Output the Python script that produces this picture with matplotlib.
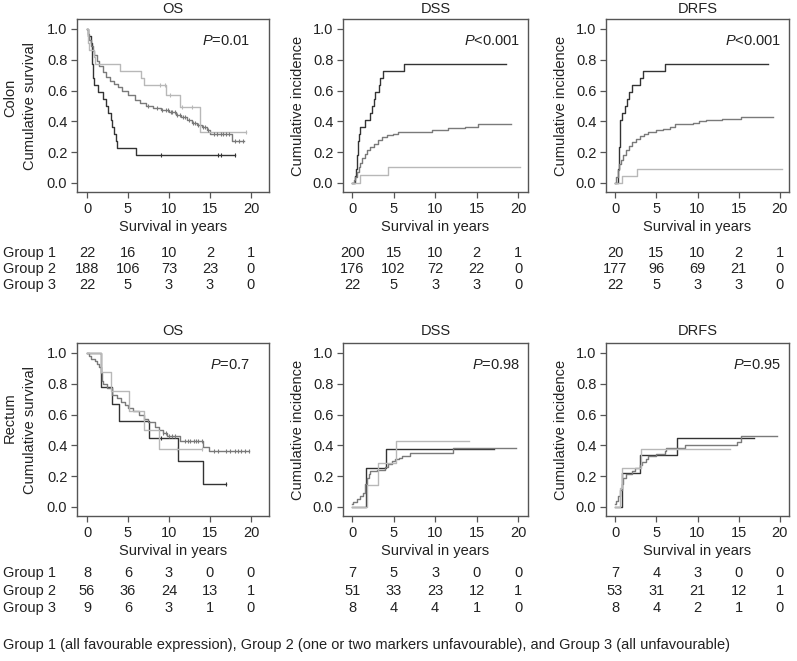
import numpy as np
import matplotlib as mpl
mpl.use('Agg')
import matplotlib.pyplot as plt
import matplotlib.transforms as mtransforms
from matplotlib import font_manager

# ---- data ----
years = [0, 5, 10, 15, 20]

# colon OS (survival)
c_os_t1 = [0, 0.1, 0.15, 0.2, 0.8, 1.0, 4.0, 6.6, 7.0, 9.6, 11.3, 13.8, 19.4]
c_os_s1 = [1.0, 0.955, 0.909, 0.864, 0.818, 0.773, 0.727, 0.682, 0.636, 0.57, 0.49, 0.33, 0.33]
c_os_c1 = [8.9, 9.5, 10.1, 11.6, 12.8, 19.4]
c_os_t2 = [0, 0.1, 0.3, 0.5, 0.7, 0.9, 1.2, 1.5, 1.9, 2.3, 2.8, 3.3, 3.8, 4.3, 5.0, 5.8, 6.5,
           7.2, 8.0, 9.0, 10.0, 10.8, 11.5, 12.2, 12.8, 13.4, 14.0, 14.6, 15.0, 17.7, 19.2]
c_os_s2 = [1.0, 0.97, 0.93, 0.89, 0.86, 0.83, 0.79, 0.76, 0.72, 0.69, 0.66, 0.64, 0.62, 0.60,
           0.57, 0.54, 0.52, 0.50, 0.485, 0.475, 0.46, 0.44, 0.43, 0.41, 0.39, 0.375, 0.36,
           0.345, 0.32, 0.27, 0.27]
c_os_c2 = [7.5, 8.5, 9.2, 9.6, 9.9, 10.2, 10.4, 10.7, 11.0, 11.3, 11.7, 12.0, 12.4, 12.9, 13.2,
           13.6, 14.2, 14.4, 14.8, 15.5, 15.9, 16.3, 16.6, 17.0, 17.3, 18.0, 18.5, 19.0]
c_os_t3 = [0, 0.15, 0.5, 0.55, 0.6, 0.65, 0.7, 0.75, 0.8, 1.4, 2.0, 2.3, 2.6, 2.9, 3.1, 3.3,
           3.5, 3.7, 6.0, 18.0]
c_os_s3 = [1, .955, .909, .864, .818, .773, .727, .682, .636, .591, .545, .5, .455, .409,
           .364, .318, .273, .227, .182, .182]
c_os_c3 = [9.0, 16.0, 16.4, 18.0]

# colon DSS (cumulative incidence)
c_dss_t1 = [0, 0.9, 4.3, 20.2]
c_dss_v1 = [0, 0.05, 0.10, 0.10]
c_dss_t2 = [0, 0.2, 0.4, 0.6, 0.8, 1.0, 1.2, 1.5, 1.8, 2.2, 2.6, 3.1, 3.6, 4.2, 4.9, 5.5,
            9.6, 10.5, 11.5, 13.6, 15.2, 19.2]
c_dss_v2 = [0, 0.02, 0.04, 0.07, 0.10, 0.13, 0.16, 0.19, 0.21, 0.235, 0.255, 0.28, 0.295,
            0.31, 0.32, 0.33, 0.34, 0.345, 0.355, 0.365, 0.38, 0.38]
c_dss_t3 = [0, 0.3, 0.45, 0.55, 0.6, 0.65, 0.75, 0.85, 0.95, 1.6, 2.1, 2.4, 2.6, 2.8, 3.2,
            3.4, 3.7, 6.3, 18.5]
c_dss_v3 = [0, .045, .09, .136, .18, .227, .273, .318, .364, .409, .455, .5, .545, .59,
            .636, .682, .727, .773, .773]

# colon DRFS
c_drfs_t1 = [0, 0.8, 2.6, 20.2]
c_drfs_v1 = [0, 0.045, 0.09, 0.09]
c_drfs_t2 = [0, 0.1, 0.3, 0.5, 0.7, 1.0, 1.3, 1.7, 2.1, 2.5, 3.0, 3.5, 4.0, 5.0, 5.8, 6.7,
             7.3, 8.5, 9.5, 10.2, 11.0, 13.0, 15.3, 19.2]
c_drfs_v2 = [0, 0.04, 0.08, 0.12, 0.15, 0.18, 0.21, 0.24, 0.265, 0.285, 0.305, 0.32, 0.33,
             0.34, 0.35, 0.365, 0.38, 0.385, 0.39, 0.40, 0.41, 0.415, 0.43, 0.43]
c_drfs_t3 = [0, 0.3, 0.4, 0.45, 0.5, 0.55, 0.8, 1.2, 1.4, 1.7, 2.0, 3.0, 3.4, 6.1, 18.6]
c_drfs_v3 = [0, .045, .09, .18, .23, .41, .455, .5, .545, .59, .636, .682, .727, .773, .773]

# rectum OS
r_os_t1 = [0, 1.7, 2.9, 5.1, 7.0, 8.8, 14.0]
r_os_s1 = [1, .875, .75, .625, .5, .375, .375]
r_os_c1 = [11.0, 14.0]
r_os_t2 = [0, 0.2, 0.5, 1.0, 1.2, 1.5, 1.7, 1.8, 2.0, 2.4, 3.0, 3.6, 4.2, 4.6, 5.0, 5.6, 6.3,
           7.0, 7.5, 8.3, 8.8, 9.3, 9.8, 11.3, 14.1, 14.9, 19.8]
r_os_s2 = [1, .98, .96, .95, .93, .91, .87, .82, .80, .77, .73, .71, .68, .66, .64, .62, .60,
           .57, .55, .52, .50, .48, .46, .43, .39, .36, .36]
r_os_c2 = [9.3, 9.6, 10.0, 10.4, 10.7, 12.0, 12.3, 12.6, 13.0, 13.3, 13.6, 14.0, 15.5, 16.0,
           17.0, 17.5, 18.0, 18.4, 18.8, 19.3, 19.8]
r_os_t3 = [0, 1.7, 3.0, 3.9, 7.6, 11.1, 14.1, 16.9]
r_os_s3 = [1, .778, .667, .556, .444, .296, .148, .148]
r_os_c3 = [9.0, 16.9]

# rectum DSS
r_dss_t1 = [0, 1.8, 3.1, 5.3, 14.1]
r_dss_v1 = [0, .143, .286, .43, .43]
r_dss_t2 = [0, 0.1, 0.6, 1.0, 1.3, 1.5, 1.6, 1.8, 2.0, 2.2, 3.0, 4.0, 4.3, 4.8, 5.2, 5.6,
            6.0, 7.0, 12.1, 19.8]
r_dss_v2 = [0.02, 0.03, 0.05, 0.07, 0.09, 0.12, 0.15, 0.19, 0.21, 0.23, 0.24, 0.26, 0.28,
            0.30, 0.31, 0.32, 0.33, 0.35, 0.38, 0.38]
r_dss_t3 = [0, 1.7, 4.1, 17.1]
r_dss_v3 = [0, .25, .375, .375]

# rectum DRFS
r_drfs_t1 = [0, 0.6, 0.8, 3.2, 14.0]
r_drfs_v1 = [0, .125, .25, .375, .375]
r_drfs_t2 = [0, 0.1, 0.3, 0.6, 0.8, 1.0, 1.3, 2.0, 2.4, 3.0, 3.3, 3.8, 4.0, 5.0, 6.0, 6.2,
             8.5, 14.8, 15.3, 19.7]
r_drfs_v2 = [0.02, 0.04, 0.07, 0.11, 0.15, 0.19, 0.21, 0.23, 0.25, 0.27, 0.29, 0.31, 0.33,
             0.34, 0.36, 0.38, 0.40, 0.42, 0.46, 0.46]
r_drfs_t3 = [0, 0.8, 3.0, 7.5, 16.8]
r_drfs_v3 = [0, .22, .335, .445, .445]

# numbers at risk (groups 1-3)
risk_c_os = [[22, 16, 10, 2, 1], [188, 106, 73, 23, 0], [22, 5, 3, 3, 0]]
risk_c_dss = [[200, 15, 10, 2, 1], [176, 102, 72, 22, 0], [22, 5, 3, 3, 0]]
risk_c_drfs = [[20, 15, 10, 2, 1], [177, 96, 69, 21, 0], [22, 5, 3, 3, 0]]
risk_r_os = [[8, 6, 3, 0, 0], [56, 36, 24, 13, 1], [9, 6, 3, 1, 0]]
risk_r_dss = [[7, 5, 3, 0, 0], [51, 33, 23, 12, 1], [8, 4, 4, 1, 0]]
risk_r_drfs = [[7, 4, 3, 0, 0], [53, 31, 21, 12, 1], [8, 4, 2, 1, 0]]

group_names = ['Group 1', 'Group 2', 'Group 3']
footnote = ('Group 1 (all favourable expression), Group 2 (one or two markers unfavourable), '
            'and Group 3 (all unfavourable)')

# ---- style ----
installed = {f.name for f in font_manager.fontManager.ttflist}
FONT = 'Liberation Sans'
NARROW = 'Liberation Sans Narrow' if 'Liberation Sans Narrow' in installed else FONT
plt.rcParams['font.family'] = [FONT, 'DejaVu Sans']
plt.rcParams['mathtext.fontset'] = 'custom'
plt.rcParams['mathtext.it'] = FONT + ':italic'
plt.rcParams['mathtext.rm'] = FONT

COLORS = ['#b8b8b8', '#7a7a7a', '#333333']
FRAME = '#555555'
TXT = '#222222'
W, H = 797, 661

fig = plt.figure(figsize=(W / 100, H / 100), dpi=100)

# panel boxes in pixels: left, top, right, bottom
boxes = [
    [(77, 19, 269, 192), (343, 19, 528, 192), (606, 19, 789, 192)],
    [(77, 343, 269, 516), (343, 343, 528, 516), (606, 343, 789, 516)],
]
xlims = [(-1.22, 22.2), (-1.1, 21.2), (-1.1, 21.1)]
risk_rows = [[253, 269, 285], [573, 591, 608]]

panels = [
    [('OS', 'Cumulative survival', 'P=0.01',
      [(c_os_t1, c_os_s1, c_os_c1), (c_os_t2, c_os_s2, c_os_c2), (c_os_t3, c_os_s3, c_os_c3)],
      risk_c_os),
     ('DSS', 'Cumulative incidence', 'P<0.001',
      [(c_dss_t1, c_dss_v1, None), (c_dss_t2, c_dss_v2, None), (c_dss_t3, c_dss_v3, None)],
      risk_c_dss),
     ('DRFS', 'Cumulative incidence', 'P<0.001',
      [(c_drfs_t1, c_drfs_v1, None), (c_drfs_t2, c_drfs_v2, None), (c_drfs_t3, c_drfs_v3, None)],
      risk_c_drfs)],
    [('OS', 'Cumulative survival', 'P=0.7',
      [(r_os_t1, r_os_s1, r_os_c1), (r_os_t2, r_os_s2, r_os_c2), (r_os_t3, r_os_s3, r_os_c3)],
      risk_r_os),
     ('DSS', 'Cumulative incidence', 'P=0.98',
      [(r_dss_t1, r_dss_v1, None), (r_dss_t2, r_dss_v2, None), (r_dss_t3, r_dss_v3, None)],
      risk_r_dss),
     ('DRFS', 'Cumulative incidence', 'P=0.95',
      [(r_drfs_t1, r_drfs_v1, None), (r_drfs_t2, r_drfs_v2, None), (r_drfs_t3, r_drfs_v3, None)],
      risk_r_drfs)],
]
row_names = ['Colon', 'Rectum']
row_name_y = [98, 418]

for r in range(2):
    fam = FONT if r == 0 else NARROW
    for c in range(3):
        l, t, rr, b = boxes[r][c]
        ax = fig.add_axes([l / W, 1 - b / H, (rr - l) / W, (b - t) / H])
        title, ylab, ptxt, curves, risk = panels[r][c]

        for g, (tt, vv, cens) in enumerate(curves):
            ax.step(tt, vv, where='post', color=COLORS[g], lw=1.0, zorder=3 - g * 0.1)
            if cens:
                idx = np.searchsorted(tt, cens, side='right') - 1
                ax.plot(cens, np.array(vv)[idx], ls='none', marker='|', ms=3,
                        mew=0.8, color=COLORS[g], zorder=3)

        ax.set_xlim(*xlims[c])
        ax.set_ylim(-0.06, 1.065)
        ax.set_xticks(years)
        ax.set_yticks([0, 0.2, 0.4, 0.6, 0.8, 1.0])
        ax.set_yticklabels(['0.0', '0.2', '0.4', '0.6', '0.8', '1.0'])
        for sp in ax.spines.values():
            sp.set_color(FRAME)
            sp.set_linewidth(1.0)
        ax.tick_params(direction='out', length=4, width=0.9, color=FRAME,
                       labelsize=10.5, pad=3, labelcolor=TXT)
        for lab in ax.get_xticklabels() + ax.get_yticklabels():
            lab.set_family(fam)

        ax.set_title(title, fontsize=10.5, pad=4 if r == 0 else 6, color=TXT, family=fam)
        ax.set_xlabel('Survival in years', fontsize=10.5, labelpad=3, color=TXT, family=fam)
        ax.set_ylabel(ylab, fontsize=10.5, color=TXT, family=fam)
        ax.yaxis.set_label_coords(-0.208, 0.5)

        ax.text(0.955 if c > 0 else 0.9, 0.87, '$P$' + ptxt[1:], transform=ax.transAxes,
                ha='right', va='center', fontsize=10.5, color=TXT, family=fam)

        # numbers at risk
        trans = mtransforms.blended_transform_factory(ax.transData, fig.transFigure)
        for g in range(3):
            for x, n in zip(years, risk[g]):
                ax.text(x, 1 - risk_rows[r][g] / H, str(n), transform=trans, ha='center',
                        va='center', fontsize=10.5, color=TXT, clip_on=False, family=fam)

    for g in range(3):
        fig.text(3 / W, 1 - risk_rows[r][g] / H, group_names[g], ha='left', va='center',
                 fontsize=10.5, color=TXT, family=fam)
    fig.text(10 / W, 1 - row_name_y[r] / H, row_names[r], rotation=90, ha='center',
             va='center', fontsize=10.5, color=TXT, family=fam)

fig.text(3 / W, 1 - 645 / H, footnote, ha='left', va='center', fontsize=10.5,
         color=TXT, family=NARROW)

fig.savefig('out.png', dpi=100)
plt.close(fig)
